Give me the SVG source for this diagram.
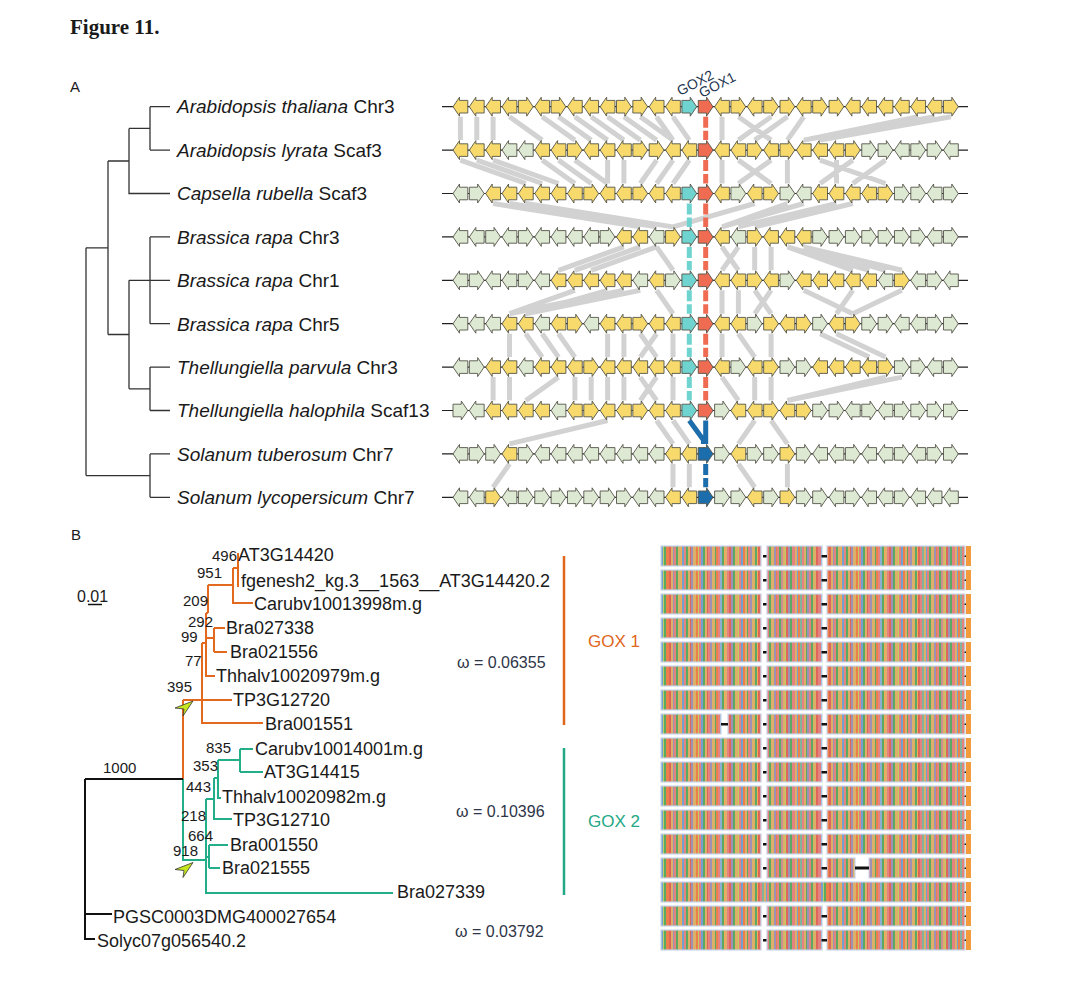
<svg xmlns="http://www.w3.org/2000/svg" xmlns:xlink="http://www.w3.org/1999/xlink" width="1067" height="1001" viewBox="0 0 1067 1001">
<style>
text{font-family:"Liberation Sans",Arial,sans-serif;fill:#1a1a1a}
.y{fill:#F7DA6B}.g{fill:#DDE9D3}.c{fill:#6FD3CF}.r{fill:#EF6B52}.b{fill:#1C6DAC}
.gene use{stroke:#55554a;stroke-width:.9}
.bb{stroke:#222;stroke-width:1.2;fill:none}
.lab{font-size:19px}
.tb{font-size:18px}
.bs{font-size:15px}
.om{font-size:16px;fill:#2e3548}
.tA{stroke:#333;stroke-width:1.3;fill:none}
.lk{stroke:#d2d2d2;stroke-width:5;fill:none}
.or{stroke:#E2691D;stroke-width:2;fill:none}
.gn{stroke:#22AE88;stroke-width:2;fill:none}
.bk{stroke:#111;stroke-width:2;fill:none}
.blk{fill:url(#aln);stroke:#c9d5ec;stroke-width:1.2}
</style>
<defs>
<path id="gr" d="M0,-6.3H8.3V-9.5L14.8,0L8.3,9.5V6.3H0Z"/>
<path id="gl" d="M14.8,-6.3H6.5V-9.5L0,0L6.5,9.5V6.3H14.8Z"/>
<pattern id="aln" patternUnits="userSpaceOnUse" x="661" y="0" width="160" height="1001">
<g opacity=".85">
<rect x="0" width="2" height="1001" fill="#5b8fc7"/><rect x="2" width="1" height="1001" fill="#b5c645"/><rect x="3" width="2" height="1001" fill="#3f9a45"/><rect x="5" width="3" height="1001" fill="#e8692e"/><rect x="8" width="2" height="1001" fill="#d94b3d"/><rect x="10" width="2" height="1001" fill="#d6a24e"/><rect x="12" width="1" height="1001" fill="#8c7fa8"/><rect x="13" width="2" height="1001" fill="#e06b6b"/><rect x="15" width="2" height="1001" fill="#3f9a45"/><rect x="17" width="3" height="1001" fill="#d6a24e"/><rect x="20" width="1" height="1001" fill="#f09a3c"/><rect x="21" width="2" height="1001" fill="#5b8fc7"/><rect x="23" width="2" height="1001" fill="#e06b6b"/><rect x="25" width="2" height="1001" fill="#3f9a45"/><rect x="27" width="2" height="1001" fill="#d6a24e"/><rect x="29" width="1" height="1001" fill="#d94b3d"/><rect x="30" width="2" height="1001" fill="#8c7fa8"/><rect x="32" width="3" height="1001" fill="#d6a24e"/><rect x="35" width="2" height="1001" fill="#e8692e"/><rect x="37" width="1" height="1001" fill="#b5c645"/><rect x="38" width="2" height="1001" fill="#e06b6b"/><rect x="40" width="2" height="1001" fill="#5b8fc7"/><rect x="42" width="2" height="1001" fill="#3f9a45"/><rect x="44" width="2" height="1001" fill="#d6a24e"/><rect x="46" width="1" height="1001" fill="#d94b3d"/><rect x="47" width="2" height="1001" fill="#e06b6b"/><rect x="49" width="2" height="1001" fill="#8c7fa8"/><rect x="51" width="3" height="1001" fill="#d6a24e"/><rect x="54" width="1" height="1001" fill="#3f9a45"/><rect x="55" width="2" height="1001" fill="#e8692e"/><rect x="57" width="2" height="1001" fill="#e06b6b"/><rect x="59" width="2" height="1001" fill="#7aa0c8"/><rect x="61" width="2" height="1001" fill="#3f9a45"/><rect x="63" width="1" height="1001" fill="#f09a3c"/><rect x="64" width="2" height="1001" fill="#d6a24e"/><rect x="66" width="2" height="1001" fill="#e06b6b"/><rect x="68" width="2" height="1001" fill="#d94b3d"/><rect x="70" width="2" height="1001" fill="#8c7fa8"/><rect x="72" width="2" height="1001" fill="#3f9a45"/><rect x="74" width="3" height="1001" fill="#d6a24e"/><rect x="77" width="1" height="1001" fill="#b5c645"/><rect x="78" width="2" height="1001" fill="#e06b6b"/><rect x="80" width="2" height="1001" fill="#5b8fc7"/><rect x="82" width="2" height="1001" fill="#e8692e"/><rect x="84" width="2" height="1001" fill="#d6a24e"/><rect x="86" width="1" height="1001" fill="#3f9a45"/><rect x="87" width="2" height="1001" fill="#e06b6b"/><rect x="89" width="2" height="1001" fill="#8c7fa8"/><rect x="91" width="3" height="1001" fill="#d6a24e"/><rect x="94" width="2" height="1001" fill="#3f9a45"/><rect x="96" width="1" height="1001" fill="#f09a3c"/><rect x="97" width="2" height="1001" fill="#d94b3d"/><rect x="99" width="2" height="1001" fill="#e06b6b"/><rect x="101" width="2" height="1001" fill="#6fa58a"/><rect x="103" width="2" height="1001" fill="#d6a24e"/><rect x="105" width="1" height="1001" fill="#5b8fc7"/><rect x="106" width="2" height="1001" fill="#e06b6b"/><rect x="108" width="2" height="1001" fill="#3f9a45"/><rect x="110" width="3" height="1001" fill="#d6a24e"/><rect x="113" width="2" height="1001" fill="#8c7fa8"/><rect x="115" width="1" height="1001" fill="#e8692e"/><rect x="116" width="2" height="1001" fill="#e06b6b"/><rect x="118" width="2" height="1001" fill="#3f9a45"/><rect x="120" width="2" height="1001" fill="#c27c7c"/><rect x="122" width="2" height="1001" fill="#d6a24e"/><rect x="124" width="1" height="1001" fill="#b5c645"/><rect x="125" width="2" height="1001" fill="#d94b3d"/><rect x="127" width="2" height="1001" fill="#8c7fa8"/><rect x="129" width="2" height="1001" fill="#3f9a45"/><rect x="131" width="3" height="1001" fill="#e06b6b"/><rect x="134" width="2" height="1001" fill="#d6a24e"/><rect x="136" width="1" height="1001" fill="#5b8fc7"/><rect x="137" width="2" height="1001" fill="#e8692e"/><rect x="139" width="2" height="1001" fill="#6fa58a"/><rect x="141" width="2" height="1001" fill="#e06b6b"/><rect x="143" width="2" height="1001" fill="#d6a24e"/><rect x="145" width="1" height="1001" fill="#3f9a45"/><rect x="146" width="2" height="1001" fill="#8c7fa8"/><rect x="148" width="2" height="1001" fill="#e06b6b"/><rect x="150" width="2" height="1001" fill="#3f9a45"/><rect x="152" width="3" height="1001" fill="#d6a24e"/><rect x="155" width="2" height="1001" fill="#d94b3d"/><rect x="157" width="3" height="1001" fill="#e06b6b"/>
</g>
</pattern>
<g id="arow">
<rect class="blk" x="661" y="0" width="100" height="20"/>
<rect class="blk" x="767" y="0" width="55" height="20"/>
<rect class="blk" x="827" y="0" width="138" height="20"/>
<rect x="966" y="0" width="5" height="20" fill="#f39a3c"/>
<rect x="763" y="9" width="3.5" height="2.5" fill="#111"/>
<rect x="821.5" y="9" width="5.5" height="2.5" fill="#111"/>
<rect x="964.6" y="9.5" width="1.4" height="1.5" fill="#111"/>
</g>
</defs>
<rect width="1067" height="1001" fill="#fff"/>

<text x="70" y="34" style="font-family:'Liberation Serif',serif;font-weight:bold;font-size:21px">Figure 11.</text>
<text x="70" y="92" style="font-size:15px">A</text>
<text x="71" y="540" style="font-size:15px">B</text>

<!-- Panel A tree -->
<g id="treeA">
<path class="tA" d="M150,106.7V150.1M150,106.7H170M150,150.1H170M129,128.4H150M129,128.4V193.5H170M108,161H129M150,236.9V323.7M150,236.9H170M150,323.7H170M129,280.3H170M150,367.1V410.5M150,367.1H170M150,410.5H170M129,388.8H150M129,280.3V388.8M108,334.5H129M108,161V334.5M86,247.8H108M150,453.9V497.3M150,453.9H170M150,497.3H170M86,475.6H150M86,247.8V475.6"/>
</g>
<g id="labelsA" class="lab">
<text x="177" y="113"><tspan font-style="italic">Arabidopsis thaliana</tspan> Chr3</text>
<text x="177" y="156.5"><tspan font-style="italic">Arabidopsis lyrata</tspan> Scaf3</text>
<text x="177" y="200"><tspan font-style="italic">Capsella rubella</tspan> Scaf3</text>
<text x="177" y="243.5"><tspan font-style="italic">Brassica rapa</tspan> Chr3</text>
<text x="177" y="287"><tspan font-style="italic">Brassica rapa</tspan> Chr1</text>
<text x="177" y="330.5"><tspan font-style="italic">Brassica rapa</tspan> Chr5</text>
<text x="177" y="373.5"><tspan font-style="italic">Thellungiella parvula</tspan> Chr3</text>
<text x="177" y="417"><tspan font-style="italic">Thellungiella halophila</tspan> Scaf13</text>
<text x="177" y="460.5"><tspan font-style="italic">Solanum tuberosum</tspan> Chr7</text>
<text x="177" y="504"><tspan font-style="italic">Solanum lycopersicum</tspan> Chr7</text>
</g>

<!-- connectors -->
<g id="connectors">
<path class="lk" d="M460.4,116.7L460.4,140.1M476.8,116.7L476.8,140.1M493.1,116.7L493.1,140.1M509.5,116.7L542.2,140.1M542.2,116.7L574.9,140.1M558.5,116.7L591.2,140.1M574.9,116.7L607.6,140.1M591.2,116.7L623.9,140.1M607.6,116.7L640.3,140.1M623.9,116.7L656.6,140.1M640.3,116.7L673,140.1M656.6,116.7L673,140.1M673,116.7L689.3,140.1M722,116.7L722,140.1M738.4,116.7L771.1,140.1M771.1,116.7L738.4,140.1M787.4,116.7L754.7,140.1M803.8,116.7L787.4,140.1M918.2,116.7L803.8,140.1M934.6,116.7L803.8,140.1M950.9,116.7L820.1,140.1"/>
<path class="lk" d="M460.4,160.1L525.8,183.5M476.8,160.1L542.2,183.5M493.1,160.1L558.5,183.5M542.2,160.1L574.9,183.5M558.5,160.1L591.2,183.5M574.9,160.1L607.6,183.5M607.6,160.1L607.6,183.5M623.9,160.1L623.9,183.5M656.6,160.1L640.3,183.5M673,160.1L656.6,183.5M689.3,160.1L673,183.5M722,160.1L722,183.5M738.4,160.1L771.1,183.5M771.1,160.1L738.4,183.5M787.4,160.1L787.4,183.5M820.1,160.1L885.5,183.5M836.5,160.1L836.5,183.5M852.8,160.1L820.1,183.5M885.5,160.1L852.8,183.5"/>
<path class="lk" d="M493.1,203.5L640.3,226.9M509.5,203.5L656.6,226.9M525.8,203.5L673,226.9M754.7,203.5L673,226.9M787.4,203.5L722,226.9M803.8,203.5L722,226.9M836.5,203.5L738.4,226.9M852.8,203.5L754.7,226.9"/>
<path class="lk" d="M623.9,246.9L558.5,270.3M640.3,246.9L574.9,270.3M656.6,246.9L591.2,270.3M656.6,246.9L673,270.3M722,246.9L738.4,270.3M738.4,246.9L722,270.3M754.7,246.9L754.7,270.3M771.1,246.9L771.1,270.3M787.4,246.9L852.8,270.3M787.4,246.9L869.2,270.3M803.8,246.9L885.5,270.3M803.8,246.9L901.9,270.3"/>
<path class="lk" d="M574.9,290.3L509.5,313.7M607.6,290.3L525.8,313.7M623.9,290.3L509.5,313.7M640.3,290.3L525.8,313.7M656.6,290.3L673,313.7M722,290.3L722,313.7M738.4,290.3L738.4,313.7M754.7,290.3L771.1,313.7M771.1,290.3L754.7,313.7M803.8,290.3L852.8,313.7M852.8,290.3L836.5,313.7M901.9,290.3L852.8,313.7"/>
<path class="lk" d="M509.5,333.7L509.5,357.1M525.8,333.7L542.2,357.1M542.2,333.7L558.5,357.1M558.5,333.7L574.9,357.1M607.6,333.7L607.6,357.1M623.9,333.7L623.9,357.1M640.3,333.7L656.6,357.1M656.6,333.7L640.3,357.1M673,333.7L673,357.1M722,333.7L722,357.1M738.4,333.7L754.7,357.1M771.1,333.7L771.1,357.1M820.1,333.7L869.2,357.1M836.5,333.7L885.5,357.1"/>
<path class="lk" d="M493.1,377.1L493.1,400.5M509.5,377.1L509.5,400.5M558.5,377.1L525.8,400.5M574.9,377.1L574.9,400.5M591.2,377.1L591.2,400.5M607.6,377.1L607.6,400.5M623.9,377.1L623.9,400.5M640.3,377.1L656.6,400.5M656.6,377.1L640.3,400.5M673,377.1L673,400.5M722,377.1L738.4,400.5M754.7,377.1L754.7,400.5M771.1,377.1L771.1,400.5M885.5,377.1L787.4,400.5M901.9,377.1L787.4,400.5"/>
<path class="lk" d="M607.6,420.5L509.5,443.9M656.6,420.5L673,443.9M673,420.5L689.3,443.9M754.7,420.5L738.4,443.9M771.1,420.5L787.4,443.9"/>
<path class="lk" d="M509.5,463.9L493.1,487.3M673,463.9L673,487.3M689.3,463.9L689.3,487.3M738.4,463.9L754.7,487.3M787.4,463.9L787.4,487.3"/>
<path d="M705.7,116.7V140.1M705.7,160.1V183.5M705.7,203.5V226.9M705.7,246.9V270.3M705.7,290.3V313.7M705.7,333.7V357.1M705.7,377.1V400.5" stroke="#EF6B52" stroke-width="5" stroke-dasharray="11 3" fill="none"/>
<path d="M689.3,203.5V226.9M689.3,246.9V270.3M689.3,290.3V313.7M689.3,333.7V357.1M689.3,377.1V400.5" stroke="#6FD3CF" stroke-width="5" stroke-dasharray="11 3" fill="none"/>
<path d="M689.3,420.5L703.5,440V444M705.7,420.5V444" stroke="#1C6DAC" stroke-width="5" fill="none"/>
<path d="M705.7,463.9V487.3" stroke="#1C6DAC" stroke-width="5" stroke-dasharray="11 3" fill="none"/>
</g>

<!-- gene rows -->
<g id="row1" class="gene" transform="translate(0,106.7)">
<path class="bb" d="M442,0H968"/>
<use href="#gl" x="453" class="y"/><use href="#gl" x="469.35" class="y"/><use href="#gl" x="485.7" class="y"/><use href="#gl" x="502.05" class="y"/><use href="#gr" x="518.4" class="y"/><use href="#gl" x="534.75" class="y"/><use href="#gr" x="551.1" class="y"/><use href="#gl" x="567.45" class="y"/><use href="#gl" x="583.8" class="y"/><use href="#gl" x="600.15" class="y"/><use href="#gr" x="616.5" class="y"/><use href="#gr" x="632.85" class="y"/><use href="#gl" x="649.2" class="y"/><use href="#gl" x="665.55" class="y"/><use href="#gr" x="681.9" class="c"/><use href="#gr" x="698.25" class="r"/><use href="#gl" x="714.6" class="y"/><use href="#gr" x="730.95" class="y"/><use href="#gl" x="747.3" class="y"/><use href="#gr" x="763.65" class="y"/><use href="#gr" x="780" class="y"/><use href="#gl" x="796.35" class="y"/><use href="#gr" x="812.7" class="y"/><use href="#gr" x="829.05" class="y"/><use href="#gl" x="845.4" class="y"/><use href="#gl" x="861.75" class="y"/><use href="#gl" x="878.1" class="y"/><use href="#gl" x="894.45" class="y"/><use href="#gl" x="910.8" class="y"/><use href="#gl" x="927.15" class="y"/><use href="#gr" x="943.5" class="y"/>
</g>
<g id="row2" class="gene" transform="translate(0,150.1)">
<path class="bb" d="M442,0H968"/>
<use href="#gl" x="453" class="y"/><use href="#gl" x="469.35" class="y"/><use href="#gl" x="485.7" class="y"/><use href="#gl" x="502.05" class="g"/><use href="#gl" x="518.4" class="g"/><use href="#gl" x="534.75" class="y"/><use href="#gl" x="551.1" class="y"/><use href="#gr" x="567.45" class="y"/><use href="#gl" x="583.8" class="y"/><use href="#gl" x="600.15" class="y"/><use href="#gl" x="616.5" class="y"/><use href="#gr" x="632.85" class="y"/><use href="#gr" x="649.2" class="y"/><use href="#gl" x="665.55" class="y"/><use href="#gl" x="681.9" class="y"/><use href="#gr" x="698.25" class="r"/><use href="#gl" x="714.6" class="y"/><use href="#gl" x="730.95" class="y"/><use href="#gr" x="747.3" class="y"/><use href="#gl" x="763.65" class="y"/><use href="#gr" x="780" class="y"/><use href="#gl" x="796.35" class="y"/><use href="#gl" x="812.7" class="y"/><use href="#gl" x="829.05" class="y"/><use href="#gr" x="845.4" class="y"/><use href="#gr" x="861.75" class="g"/><use href="#gr" x="878.1" class="g"/><use href="#gl" x="894.45" class="g"/><use href="#gr" x="910.8" class="g"/><use href="#gr" x="927.15" class="g"/><use href="#gl" x="943.5" class="g"/>
</g>
<g id="row3" class="gene" transform="translate(0,193.5)">
<path class="bb" d="M442,0H968"/>
<use href="#gl" x="453" class="g"/><use href="#gr" x="469.35" class="g"/><use href="#gl" x="485.7" class="y"/><use href="#gl" x="502.05" class="y"/><use href="#gl" x="518.4" class="y"/><use href="#gl" x="534.75" class="y"/><use href="#gl" x="551.1" class="y"/><use href="#gl" x="567.45" class="y"/><use href="#gr" x="583.8" class="y"/><use href="#gl" x="600.15" class="y"/><use href="#gl" x="616.5" class="y"/><use href="#gr" x="632.85" class="y"/><use href="#gl" x="649.2" class="y"/><use href="#gl" x="665.55" class="y"/><use href="#gr" x="681.9" class="c"/><use href="#gr" x="698.25" class="r"/><use href="#gl" x="714.6" class="y"/><use href="#gr" x="730.95" class="g"/><use href="#gl" x="747.3" class="y"/><use href="#gr" x="763.65" class="y"/><use href="#gr" x="780" class="g"/><use href="#gl" x="796.35" class="g"/><use href="#gl" x="812.7" class="y"/><use href="#gl" x="829.05" class="y"/><use href="#gl" x="845.4" class="y"/><use href="#gl" x="861.75" class="y"/><use href="#gr" x="878.1" class="y"/><use href="#gr" x="894.45" class="g"/><use href="#gr" x="910.8" class="g"/><use href="#gl" x="927.15" class="g"/><use href="#gr" x="943.5" class="g"/>
</g>
<g id="row4" class="gene" transform="translate(0,236.9)">
<path class="bb" d="M442,0H968"/>
<use href="#gl" x="453" class="g"/><use href="#gl" x="469.35" class="g"/><use href="#gr" x="485.7" class="g"/><use href="#gl" x="502.05" class="g"/><use href="#gr" x="518.4" class="g"/><use href="#gl" x="534.75" class="g"/><use href="#gl" x="551.1" class="g"/><use href="#gl" x="567.45" class="g"/><use href="#gl" x="583.8" class="g"/><use href="#gr" x="600.15" class="g"/><use href="#gl" x="616.5" class="y"/><use href="#gl" x="632.85" class="y"/><use href="#gl" x="649.2" class="g"/><use href="#gr" x="665.55" class="y"/><use href="#gr" x="681.9" class="c"/><use href="#gr" x="698.25" class="r"/><use href="#gl" x="714.6" class="y"/><use href="#gl" x="730.95" class="g"/><use href="#gr" x="747.3" class="y"/><use href="#gl" x="763.65" class="y"/><use href="#gl" x="780" class="y"/><use href="#gl" x="796.35" class="y"/><use href="#gr" x="812.7" class="g"/><use href="#gr" x="829.05" class="g"/><use href="#gr" x="845.4" class="g"/><use href="#gr" x="861.75" class="g"/><use href="#gr" x="878.1" class="g"/><use href="#gr" x="894.45" class="g"/><use href="#gr" x="910.8" class="g"/><use href="#gl" x="927.15" class="g"/><use href="#gr" x="943.5" class="g"/>
</g>
<g id="row5" class="gene" transform="translate(0,280.3)">
<path class="bb" d="M442,0H968"/>
<use href="#gl" x="453" class="g"/><use href="#gr" x="469.35" class="g"/><use href="#gl" x="485.7" class="g"/><use href="#gl" x="502.05" class="g"/><use href="#gr" x="518.4" class="g"/><use href="#gl" x="534.75" class="g"/><use href="#gl" x="551.1" class="y"/><use href="#gl" x="567.45" class="y"/><use href="#gl" x="583.8" class="y"/><use href="#gl" x="600.15" class="y"/><use href="#gl" x="616.5" class="y"/><use href="#gl" x="632.85" class="g"/><use href="#gl" x="649.2" class="y"/><use href="#gr" x="665.55" class="g"/><use href="#gr" x="681.9" class="c"/><use href="#gr" x="698.25" class="r"/><use href="#gl" x="714.6" class="y"/><use href="#gl" x="730.95" class="y"/><use href="#gr" x="747.3" class="y"/><use href="#gl" x="763.65" class="y"/><use href="#gr" x="780" class="g"/><use href="#gl" x="796.35" class="y"/><use href="#gl" x="812.7" class="y"/><use href="#gl" x="829.05" class="y"/><use href="#gl" x="845.4" class="y"/><use href="#gl" x="861.75" class="y"/><use href="#gl" x="878.1" class="g"/><use href="#gr" x="894.45" class="y"/><use href="#gl" x="910.8" class="g"/><use href="#gr" x="927.15" class="g"/><use href="#gl" x="943.5" class="g"/>
</g>
<g id="row6" class="gene" transform="translate(0,323.7)">
<path class="bb" d="M442,0H968"/>
<use href="#gl" x="453" class="g"/><use href="#gl" x="469.35" class="g"/><use href="#gl" x="485.7" class="g"/><use href="#gl" x="502.05" class="y"/><use href="#gl" x="518.4" class="y"/><use href="#gl" x="534.75" class="g"/><use href="#gl" x="551.1" class="y"/><use href="#gr" x="567.45" class="y"/><use href="#gl" x="583.8" class="g"/><use href="#gl" x="600.15" class="y"/><use href="#gl" x="616.5" class="y"/><use href="#gr" x="632.85" class="y"/><use href="#gl" x="649.2" class="y"/><use href="#gl" x="665.55" class="y"/><use href="#gr" x="681.9" class="c"/><use href="#gr" x="698.25" class="r"/><use href="#gl" x="714.6" class="y"/><use href="#gl" x="730.95" class="y"/><use href="#gr" x="747.3" class="g"/><use href="#gr" x="763.65" class="y"/><use href="#gl" x="780" class="y"/><use href="#gr" x="796.35" class="y"/><use href="#gr" x="812.7" class="g"/><use href="#gl" x="829.05" class="y"/><use href="#gr" x="845.4" class="y"/><use href="#gr" x="861.75" class="g"/><use href="#gr" x="878.1" class="g"/><use href="#gl" x="894.45" class="g"/><use href="#gl" x="910.8" class="g"/><use href="#gr" x="927.15" class="g"/><use href="#gr" x="943.5" class="g"/>
</g>
<g id="row7" class="gene" transform="translate(0,367.1)">
<path class="bb" d="M442,0H968"/>
<use href="#gl" x="453" class="g"/><use href="#gr" x="469.35" class="g"/><use href="#gl" x="485.7" class="y"/><use href="#gl" x="502.05" class="y"/><use href="#gl" x="518.4" class="g"/><use href="#gl" x="534.75" class="y"/><use href="#gl" x="551.1" class="y"/><use href="#gl" x="567.45" class="y"/><use href="#gr" x="583.8" class="y"/><use href="#gl" x="600.15" class="y"/><use href="#gl" x="616.5" class="y"/><use href="#gl" x="632.85" class="y"/><use href="#gl" x="649.2" class="y"/><use href="#gl" x="665.55" class="y"/><use href="#gr" x="681.9" class="c"/><use href="#gr" x="698.25" class="r"/><use href="#gl" x="714.6" class="y"/><use href="#gr" x="730.95" class="g"/><use href="#gl" x="747.3" class="y"/><use href="#gr" x="763.65" class="y"/><use href="#gr" x="780" class="g"/><use href="#gr" x="796.35" class="g"/><use href="#gl" x="812.7" class="y"/><use href="#gl" x="829.05" class="y"/><use href="#gl" x="845.4" class="y"/><use href="#gl" x="861.75" class="y"/><use href="#gr" x="878.1" class="y"/><use href="#gr" x="894.45" class="g"/><use href="#gr" x="910.8" class="g"/><use href="#gl" x="927.15" class="g"/><use href="#gr" x="943.5" class="g"/>
</g>
<g id="row8" class="gene" transform="translate(0,410.5)">
<path class="bb" d="M442,0H968"/>
<use href="#gr" x="453" class="g"/><use href="#gl" x="469.35" class="g"/><use href="#gl" x="485.7" class="y"/><use href="#gl" x="502.05" class="y"/><use href="#gl" x="518.4" class="y"/><use href="#gl" x="534.75" class="y"/><use href="#gl" x="551.1" class="g"/><use href="#gl" x="567.45" class="y"/><use href="#gr" x="583.8" class="y"/><use href="#gl" x="600.15" class="y"/><use href="#gl" x="616.5" class="y"/><use href="#gr" x="632.85" class="y"/><use href="#gl" x="649.2" class="y"/><use href="#gl" x="665.55" class="y"/><use href="#gr" x="681.9" class="c"/><use href="#gr" x="698.25" class="r"/><use href="#gr" x="714.6" class="g"/><use href="#gl" x="730.95" class="y"/><use href="#gl" x="747.3" class="y"/><use href="#gr" x="763.65" class="y"/><use href="#gl" x="780" class="y"/><use href="#gr" x="796.35" class="y"/><use href="#gr" x="812.7" class="g"/><use href="#gr" x="829.05" class="g"/><use href="#gl" x="845.4" class="g"/><use href="#gr" x="861.75" class="g"/><use href="#gl" x="878.1" class="g"/><use href="#gr" x="894.45" class="g"/><use href="#gr" x="910.8" class="g"/><use href="#gr" x="927.15" class="g"/><use href="#gr" x="943.5" class="g"/>
</g>
<g id="row9" class="gene" transform="translate(0,453.9)">
<path class="bb" d="M442,0H968"/>
<use href="#gl" x="453" class="g"/><use href="#gr" x="469.35" class="g"/><use href="#gr" x="485.7" class="g"/><use href="#gl" x="502.05" class="y"/><use href="#gr" x="518.4" class="g"/><use href="#gl" x="534.75" class="g"/><use href="#gl" x="551.1" class="g"/><use href="#gl" x="567.45" class="g"/><use href="#gl" x="583.8" class="g"/><use href="#gl" x="600.15" class="g"/><use href="#gl" x="616.5" class="g"/><use href="#gl" x="632.85" class="g"/><use href="#gl" x="649.2" class="g"/><use href="#gl" x="665.55" class="y"/><use href="#gl" x="681.9" class="y"/><use href="#gr" x="698.25" class="b"/><use href="#gr" x="714.6" class="g"/><use href="#gl" x="730.95" class="y"/><use href="#gr" x="747.3" class="g"/><use href="#gr" x="763.65" class="g"/><use href="#gr" x="780" class="y"/><use href="#gr" x="796.35" class="g"/><use href="#gl" x="812.7" class="g"/><use href="#gl" x="829.05" class="g"/><use href="#gr" x="845.4" class="g"/><use href="#gl" x="861.75" class="g"/><use href="#gl" x="878.1" class="g"/><use href="#gr" x="894.45" class="g"/><use href="#gl" x="910.8" class="g"/><use href="#gr" x="927.15" class="g"/><use href="#gr" x="943.5" class="g"/>
</g>
<g id="row10" class="gene" transform="translate(0,497.3)">
<path class="bb" d="M442,0H968"/>
<use href="#gl" x="453" class="g"/><use href="#gl" x="469.35" class="g"/><use href="#gr" x="485.7" class="y"/><use href="#gl" x="502.05" class="g"/><use href="#gr" x="518.4" class="g"/><use href="#gr" x="534.75" class="g"/><use href="#gr" x="551.1" class="g"/><use href="#gr" x="567.45" class="g"/><use href="#gr" x="583.8" class="g"/><use href="#gr" x="600.15" class="g"/><use href="#gr" x="616.5" class="g"/><use href="#gl" x="632.85" class="g"/><use href="#gl" x="649.2" class="g"/><use href="#gl" x="665.55" class="y"/><use href="#gl" x="681.9" class="y"/><use href="#gr" x="698.25" class="b"/><use href="#gr" x="714.6" class="g"/><use href="#gr" x="730.95" class="g"/><use href="#gl" x="747.3" class="y"/><use href="#gr" x="763.65" class="g"/><use href="#gr" x="780" class="y"/><use href="#gr" x="796.35" class="g"/><use href="#gr" x="812.7" class="g"/><use href="#gl" x="829.05" class="g"/><use href="#gr" x="845.4" class="g"/><use href="#gl" x="861.75" class="g"/><use href="#gl" x="878.1" class="g"/><use href="#gr" x="894.45" class="g"/><use href="#gl" x="910.8" class="g"/><use href="#gl" x="927.15" class="g"/><use href="#gl" x="943.5" class="g"/>
</g>
<g id="goxlabels" style="font-size:14px">
<text transform="translate(680,96) rotate(-27)" style="fill:#1e3550">GOX2</text>
<text transform="translate(702,98) rotate(-27)" style="fill:#1e3550">GOX1</text>
</g>

<!-- Panel B tree -->
<g id="treeB">
<path class="or" d="M238,553V587M233,568H238M233,568V603H253M208,585H233M208,585V613M206,613H208M206,613V676H215M206,638H214M214,628V652M214,628H225M214,652H227M202,643H206M202,643V723H263M183,700H232M183,700V779"/>
<path class="gn" d="M183,779V860H206M206,799V893H393M206,857H209M209,845V868M209,845H228M209,868H220M206,799H214M214,778V819H232M214,778H218M218,760V798H221M218,760H240M240,749V772M240,749H253M240,772H263"/>
<path class="bk" d="M85,779H183M85,779V939H95M85,914H112"/>
<polygon points="193,701 175,708 184,709 183,716" fill="#C8E61E" stroke="#333" stroke-width=".8"/>
<polygon points="193,862.5 175,869.5 184,870.5 183,877.5" fill="#C8E61E" stroke="#333" stroke-width=".8"/>
</g>
<g id="scale">
<text x="77" y="602" style="font-size:16px">0.01</text>
<path d="M88,604.5H102" stroke="#111" stroke-width="1.5"/>
</g>
<g id="bootstraps" class="bs">
<text x="212" y="561">496</text><text x="197" y="578">951</text><text x="183" y="606">209</text><text x="188" y="627">292</text><text x="181" y="642">99</text><text x="185" y="666">77</text><text x="167" y="692">395</text><text x="206" y="753">835</text><text x="103" y="773">1000</text><text x="193" y="771">353</text><text x="186" y="792">443</text><text x="181" y="821">218</text><text x="188" y="841">664</text><text x="173" y="856">918</text>
</g>
<g id="tipsB" class="tb">
<text x="238" y="561">AT3G14420</text>
<text x="241" y="587">fgenesh2_kg.3__1563__AT3G14420.2</text>
<text x="254" y="610">Carubv10013998m.g</text>
<text x="226" y="634">Bra027338</text>
<text x="230" y="658">Bra021556</text>
<text x="216" y="682">Thhalv10020979m.g</text>
<text x="233" y="706">TP3G12720</text>
<text x="265" y="730">Bra001551</text>
<text x="255" y="755">Carubv10014001m.g</text>
<text x="264" y="778">AT3G14415</text>
<text x="222" y="803">Thhalv10020982m.g</text>
<text x="233" y="826">TP3G12710</text>
<text x="230" y="851">Bra001550</text>
<text x="222" y="874">Bra021555</text>
<text x="397" y="898">Bra027339</text>
<text x="113" y="923">PGSC0003DMG400027654</text>
<text x="97" y="947">Solyc07g056540.2</text>
</g>
<g id="omega">
<text class="om" x="457" y="668">ω = 0.06355</text>
<text class="om" x="456" y="817">ω = 0.10396</text>
<text class="om" x="455" y="937">ω = 0.03792</text>
</g>
<g id="gox1">
<path d="M564,556V725" stroke="#E0661A" stroke-width="2.5"/>
<text x="588" y="647" style="font-size:17px;fill:#E0661A">GOX 1</text>
</g>
<g id="gox2">
<path d="M564,748V895" stroke="#22A884" stroke-width="2.5"/>
<text x="588" y="827" style="font-size:17px;fill:#22A884">GOX 2</text>
</g>

<!-- alignment -->
<g id="alignment">
<use href="#arow" y="546"/><use href="#arow" y="570"/><use href="#arow" y="594"/><use href="#arow" y="618"/><use href="#arow" y="642"/><use href="#arow" y="666"/><use href="#arow" y="690"/>
<g transform="translate(0,714)">
<rect class="blk" x="661" y="0" width="60" height="20"/>
<rect class="blk" x="728" y="0" width="33" height="20"/>
<rect x="721" y="9" width="7" height="2.5" fill="#111"/>
<rect class="blk" x="767" y="0" width="55" height="20"/>
<rect class="blk" x="827" y="0" width="138" height="20"/>
<rect x="966" y="0" width="5" height="20" fill="#f39a3c"/>
<rect x="763" y="9" width="3.5" height="2.5" fill="#111"/>
<rect x="821.5" y="9" width="5.5" height="2.5" fill="#111"/>
<rect x="964.6" y="9.5" width="1.4" height="1.5" fill="#111"/>
</g>
<use href="#arow" y="738"/><use href="#arow" y="762"/><use href="#arow" y="786"/><use href="#arow" y="810"/><use href="#arow" y="834"/>
<g transform="translate(0,858)">
<rect class="blk" x="661" y="0" width="100" height="20"/>
<rect class="blk" x="767" y="0" width="55" height="20"/>
<rect class="blk" x="827" y="0" width="28" height="20"/>
<rect class="blk" x="869" y="0" width="96" height="20"/>
<rect x="855" y="8.5" width="14" height="3" fill="#111"/>
<rect x="966" y="0" width="5" height="20" fill="#f39a3c"/>
<rect x="763" y="9" width="3.5" height="2.5" fill="#111"/>
<rect x="821.5" y="9" width="5.5" height="2.5" fill="#111"/>
<rect x="964.6" y="9.5" width="1.4" height="1.5" fill="#111"/>
</g>
<g transform="translate(0,882)">
<rect class="blk" x="661" y="0" width="304" height="20"/>
<rect x="966" y="0" width="5" height="20" fill="#f39a3c"/>
<rect x="964.6" y="9.5" width="1.4" height="1.5" fill="#111"/>
</g>
<use href="#arow" y="906"/><use href="#arow" y="930"/>
</g>
</svg>
